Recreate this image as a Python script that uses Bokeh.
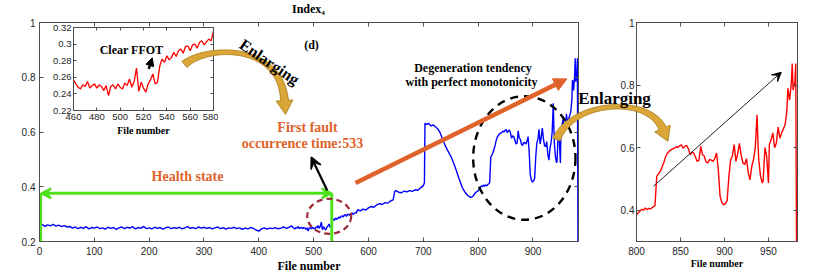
import numpy as np
from bokeh.plotting import figure
from bokeh.layouts import row
from bokeh.models import (Range1d, FixedTicker, LinearAxis, CustomJSTickFormatter,
                          Arrow, NormalHead, VeeHead)
from bokeh.core.properties import value
from bokeh.embed import file_html
from bokeh.resources import INLINE

# ---------------- data ----------------
health_files = list(range(0, 460, 5))
health_index = [0.258, 0.262, 0.255, 0.261, 0.257, 0.263, 0.256, 0.260, 0.254, 0.258, 0.253,
                0.255, 0.249, 0.253, 0.247, 0.252, 0.248, 0.254, 0.246, 0.251, 0.249,
                0.253, 0.247, 0.250, 0.245, 0.252, 0.248, 0.251, 0.244, 0.250, 0.253,
                0.247, 0.252, 0.249, 0.254, 0.246, 0.251, 0.248, 0.255, 0.247, 0.250,
                0.246, 0.252, 0.248, 0.251, 0.245, 0.250, 0.253, 0.247, 0.251, 0.248,
                0.252, 0.246, 0.250, 0.254, 0.248, 0.251, 0.247, 0.253, 0.249, 0.252,
                0.248, 0.251, 0.246, 0.250, 0.253, 0.247, 0.251, 0.245, 0.250, 0.248,
                0.252, 0.247, 0.250, 0.244, 0.249, 0.246, 0.251, 0.248, 0.242, 0.238,
                0.246, 0.250, 0.245, 0.249, 0.247, 0.251, 0.246, 0.249, 0.253, 0.248, 0.252]

inset_files = list(range(460, 582, 2))
inset_index = [0.257, 0.252, 0.248, 0.246, 0.251, 0.249, 0.255, 0.247, 0.250, 0.252,
               0.247, 0.251, 0.249, 0.244, 0.250, 0.238, 0.249, 0.251, 0.246, 0.252,
               0.248, 0.246, 0.253, 0.250, 0.258, 0.248, 0.255, 0.271, 0.243, 0.254,
               0.247, 0.242, 0.252, 0.257, 0.264, 0.252, 0.254, 0.274, 0.282, 0.278,
               0.286, 0.281, 0.284, 0.290, 0.285, 0.292, 0.294, 0.289, 0.297, 0.298,
               0.292, 0.299, 0.300, 0.295, 0.302, 0.304, 0.299, 0.303, 0.306, 0.304,
               0.316]

rise_files = [585, 590, 595, 600, 605, 610, 615, 620, 625, 630, 635, 640, 645,
              648, 650,
              655, 660, 665, 670, 675, 680, 685, 690, 695, 700,
              702, 703,
              706, 710, 714, 718, 722, 726, 730,
              735, 740, 745, 750,
              756, 760, 765,
              771, 776, 781, 786, 790, 795]
rise_index = [0.312, 0.318, 0.315, 0.323, 0.328, 0.325, 0.334, 0.338, 0.335, 0.342, 0.340, 0.348, 0.352,
              0.384, 0.386,
              0.380, 0.378, 0.384, 0.381, 0.386, 0.383, 0.389, 0.387, 0.396, 0.404,
              0.415, 0.632,
              0.628, 0.631, 0.622, 0.626, 0.619, 0.612, 0.600,
              0.575, 0.550, 0.530, 0.512,
              0.483, 0.460, 0.430,
              0.397, 0.380, 0.368, 0.361, 0.364, 0.378]

zoom_files = [800, 802, 804, 806, 808, 810, 812, 814, 816, 818,
              820, 821, 823, 825, 827, 829, 831, 833, 835, 837,
              839, 841, 843, 845, 847, 849, 851, 853, 855, 857,
              859, 861, 863, 865, 867, 869, 871, 873, 875, 877,
              879, 881, 883, 885, 887, 889, 891, 893, 895, 897,
              899, 901, 903, 905, 907, 909, 911, 913, 915, 917,
              919, 921, 923, 925, 927, 929, 931, 933, 935, 937,
              938, 939, 941, 943, 944, 946, 948, 950, 951, 953,
              955, 957, 959, 961, 963, 965, 967, 969, 971,
              972, 974, 976, 977, 978, 980, 981, 982]
zoom_index = [0.385, 0.392, 0.397, 0.403, 0.400, 0.407, 0.402, 0.406, 0.404, 0.409,
              0.412, 0.415, 0.508, 0.516, 0.524, 0.538, 0.552, 0.570, 0.582, 0.588,
              0.593, 0.596, 0.598, 0.603, 0.600, 0.606, 0.609, 0.598, 0.604, 0.607,
              0.596, 0.577, 0.586, 0.583, 0.570, 0.556, 0.560, 0.604, 0.578, 0.573,
              0.555, 0.551, 0.562, 0.560, 0.556, 0.565, 0.583, 0.529, 0.444, 0.425,
              0.417, 0.421, 0.430, 0.508, 0.560, 0.573, 0.610, 0.556, 0.580, 0.614,
              0.575, 0.551, 0.546, 0.565, 0.520, 0.497, 0.540, 0.562, 0.600, 0.705,
              0.620, 0.560, 0.508, 0.487, 0.495, 0.600, 0.572, 0.487, 0.610, 0.625,
              0.647, 0.600, 0.615, 0.666, 0.630, 0.648, 0.660, 0.675, 0.720,
              0.790, 0.752, 0.807, 0.869, 0.784, 0.810, 0.869, 0.200]

main_files = health_files + inset_files + rise_files + zoom_files
main_index = health_index + inset_index + rise_index + zoom_index

main_xticks = [0, 100, 200, 300, 400, 500, 600, 700, 800, 900]
main_yticks = [0.2, 0.4, 0.6, 0.8, 1.0]
inset_xticks = [460, 480, 500, 520, 540, 560, 580]
inset_yticks = [0.22, 0.24, 0.26, 0.28, 0.30, 0.32]
zoom_xticks = [800, 850, 900, 950]
zoom_yticks = [0.4, 0.6, 0.8, 1.0]

fault_file = 533

# ---------------- styles ----------------
AX = "#4d4d4d"
LBL = "#262626"
SANS = "Liberation Sans"
SERIF = "Liberation Serif"
BLUE = "#0000ff"
RED = "#ff0000"
GREEN = "#4fe01c"
ORANGE = "#e0622a"
WINE = "#9e2a3a"
GOLD = "#d9a637"
GOLD_EDGE = "#a87c1c"
NUM_FMT = "return String(Number(tick.toFixed(3)));"


def style_axis(ax, size, standoff, tick_len, show=True):
    ax.axis_line_color = AX
    ax.axis_line_width = 1
    ax.major_tick_line_color = AX
    ax.major_tick_in = tick_len
    ax.major_tick_out = 0
    ax.minor_tick_line_color = None
    ax.major_label_text_font = SANS
    ax.major_label_text_color = LBL
    ax.major_label_text_font_size = size if show else "0px"
    ax.major_label_standoff = standoff if show else 0


def make_panel(width, height, xr, yr, borders, xticks, yticks, size, sx, sy, tick_len,
               transparent_border=False):
    left, right, top, bottom = borders
    p = figure(width=width, height=height,
               x_range=Range1d(*xr), y_range=Range1d(*yr),
               min_border_left=left, min_border_right=right,
               min_border_top=top, min_border_bottom=bottom,
               toolbar_location=None, output_backend="svg")
    p.frame_align = False
    p.grid.visible = False
    p.outline_line_color = AX
    p.background_fill_color = "white"
    p.border_fill_color = None if transparent_border else "white"
    p.xaxis.ticker = FixedTicker(ticks=xticks, minor_ticks=[])
    p.yaxis.ticker = FixedTicker(ticks=yticks, minor_ticks=[])
    p.xaxis.formatter = CustomJSTickFormatter(code=NUM_FMT)
    p.yaxis.formatter = CustomJSTickFormatter(code=NUM_FMT)
    style_axis(p.xaxis[0], size, sx, tick_len)
    style_axis(p.yaxis[0], size, sy, tick_len)
    top_ax = LinearAxis(ticker=FixedTicker(ticks=xticks, minor_ticks=[]),
                        formatter=CustomJSTickFormatter(code="return '';"))
    right_ax = LinearAxis(ticker=FixedTicker(ticks=yticks, minor_ticks=[]),
                          formatter=CustomJSTickFormatter(code="return '';"))
    style_axis(top_ax, size, 0, tick_len, show=False)
    style_axis(right_ax, size, 0, tick_len, show=False)
    p.add_layout(top_ax, "above")
    p.add_layout(right_ax, "right")
    return p


# ---------------- main panel (canvas 0..588 x 0..271, frame 39..578 x 22..241) ----------------
pm = make_panel(588, 271, (0, 983), (0.2, 1.0), (39, 10, 22, 30),
                main_xticks, main_yticks, "10px", 5, 4, 4)
pm.line(main_files, main_index, line_color=BLUE, line_width=1.4)

pm.segment(x0=[2, fault_file], y0=[0.376, 0.376], x1=[2, fault_file], y1=[0.19, 0.17],
           line_color=GREEN, line_width=3)
pm.add_layout(Arrow(start=VeeHead(size=10, fill_color=GREEN, line_color=GREEN, line_width=2),
                    end=VeeHead(size=10, fill_color=GREEN, line_color=GREEN, line_width=2),
                    x_start=3, y_start=0.376, x_end=fault_file, y_end=0.376,
                    line_color=GREEN, line_width=3))
pm.ellipse(x=[528.4], y=[0.292], width=[80.2], height=[0.128], fill_color=None,
           line_color=WINE, line_width=2.2, line_dash="6 4")
pm.ellipse(x=[884.2], y=[0.505], width=[186.6], height=[0.4515], fill_color=None,
           line_color="black", line_width=2.4, line_dash="8 6")
pm.add_layout(Arrow(end=VeeHead(size=11, fill_color="black", line_color="black", line_width=1.5),
                    x_start=524.8, y_start=0.386, x_end=495.6, y_end=0.508,
                    line_color="black", line_width=2.2))
pm.add_layout(Arrow(end=NormalHead(size=13, fill_color=ORANGE, line_color=ORANGE),
                    x_start=576.3, y_start=0.414, x_end=962, y_end=0.794,
                    line_color=ORANGE, line_width=4.5))
pm.margin = (0, 0, 0, 0)

# ---------------- right (enlarged) panel (canvas 600..818, frame 636..797 x 22..241) ----------------
pr = make_panel(218, 271, (800, 983), (0.3, 1.0), (36, 21, 22, 30),
                zoom_xticks, zoom_yticks, "10px", 5, 2, 4)
pr.line(zoom_files, zoom_index, line_color=RED, line_width=1.4)
pr.add_layout(Arrow(end=VeeHead(size=9, fill_color="black", line_color="black", line_width=1),
                    x_start=819.5, y_start=0.477, x_end=964.6, y_end=0.841,
                    line_color="#222222", line_width=1))
pr.margin = (0, 0, 0, 12)

# ---------------- inset panel (canvas 44..218 x 17..132, frame 73..213 x 27..110) ----------------
pi = make_panel(174, 115, (460, 580), (0.22, 0.32), (29, 5, 10, 22),
                inset_xticks, inset_yticks, "9.5px", 3, 2, 3, transparent_border=True)
pi.line(inset_files, inset_index, line_color=RED, line_width=1.3)
pi.add_layout(Arrow(end=NormalHead(size=8, fill_color="black", line_color="black"),
                    x_start=524.5, y_start=0.2702, x_end=527.5, y_end=0.2835,
                    line_color="black", line_width=2.5))
pi.margin = (17, 0, 139, -774)

# ---------------- overlay for texts & curved arrows (page pixel coords) ----------------
po = figure(width=818, height=273, x_range=Range1d(0, 818), y_range=Range1d(273, 0),
            x_axis_type=None, y_axis_type=None, toolbar_location=None, output_backend="svg",
            min_border_left=0, min_border_right=0, min_border_top=0, min_border_bottom=0)
po.frame_align = False
po.outline_line_color = None
po.background_fill_color = None
po.border_fill_color = None
po.grid.visible = False
po.margin = (0, 0, 0, -218)


def ribbon_arrow(p0, c1, c2, p3, w_end, w_mid, head_len, head_w, n=48):
    t = np.linspace(0, 1, n)[:, None]
    P0, P1, P2, P3 = (np.array(v, float) for v in (p0, c1, c2, p3))
    B = (1 - t) ** 3 * P0 + 3 * (1 - t) ** 2 * t * P1 + 3 * (1 - t) * t ** 2 * P2 + t ** 3 * P3
    D = 3 * (1 - t) ** 2 * (P1 - P0) + 6 * (1 - t) * t * (P2 - P1) + 3 * t ** 2 * (P3 - P2)
    D = D / np.linalg.norm(D, axis=1)[:, None]
    N = np.hstack([-D[:, 1:2], D[:, 0:1]])
    w = (w_mid + (w_end - w_mid) * (2 * t - 1) ** 2)
    L = B + N * w / 2
    R = B - N * w / 2
    d, nn = D[-1], N[-1]
    tip = P3 + d * head_len
    hl = P3 + nn * head_w / 2
    hr = P3 - nn * head_w / 2
    xs = list(L[:, 0]) + [hl[0], tip[0], hr[0]] + list(R[::-1, 0])
    ys = list(L[:, 1]) + [hl[1], tip[1], hr[1]] + list(R[::-1, 1])
    return xs, ys


for args in (((184, 64), (205, 45), (280, 42), (284, 100)),
             ((556, 139), (572, 100), (648, 95), (662, 128))):
    xs, ys = ribbon_arrow(*args, w_end=8, w_mid=4.5, head_len=14, head_w=17)
    po.patch(xs, ys, fill_color=GOLD, line_color=GOLD_EDGE, line_width=0.8)

serif = value(SERIF)
common = dict(text_font=serif, text_font_style="bold", text_align="center", text_baseline="middle")
po.text(x=[308, 311, 131, 472.5, 471, 308.5], y=[8, 44, 49.5, 67.5, 81.5, 265],
        text=["Index₄", "(d)", "Clear FFOT", "Degeneration tendency",
              "with perfect monotonicity", "File number"],
        text_font_size="12px", text_color="black", **common)
po.text(x=[143, 716.5], y=[129.5, 262.5], text=["File number", "File number"],
        text_font_size="10px", text_color="black", **common)
po.text(x=[187, 307, 302], y=[176, 127, 143],
        text=["Health state", "First fault", "occurrence time:533"],
        text_font_size="14px", text_color=ORANGE, **common)
po.text(x=[269], y=[61.5], text=["Enlarging"], angle=[-0.6],
        text_font_size="16px", text_color="black", **common)
po.text(x=[614], y=[98], text=["Enlarging"],
        text_font_size="17px", text_color="black", **common)

layout = row(pm, pr, pi, po)
open("out.html", "w").write(file_html(layout, INLINE))
